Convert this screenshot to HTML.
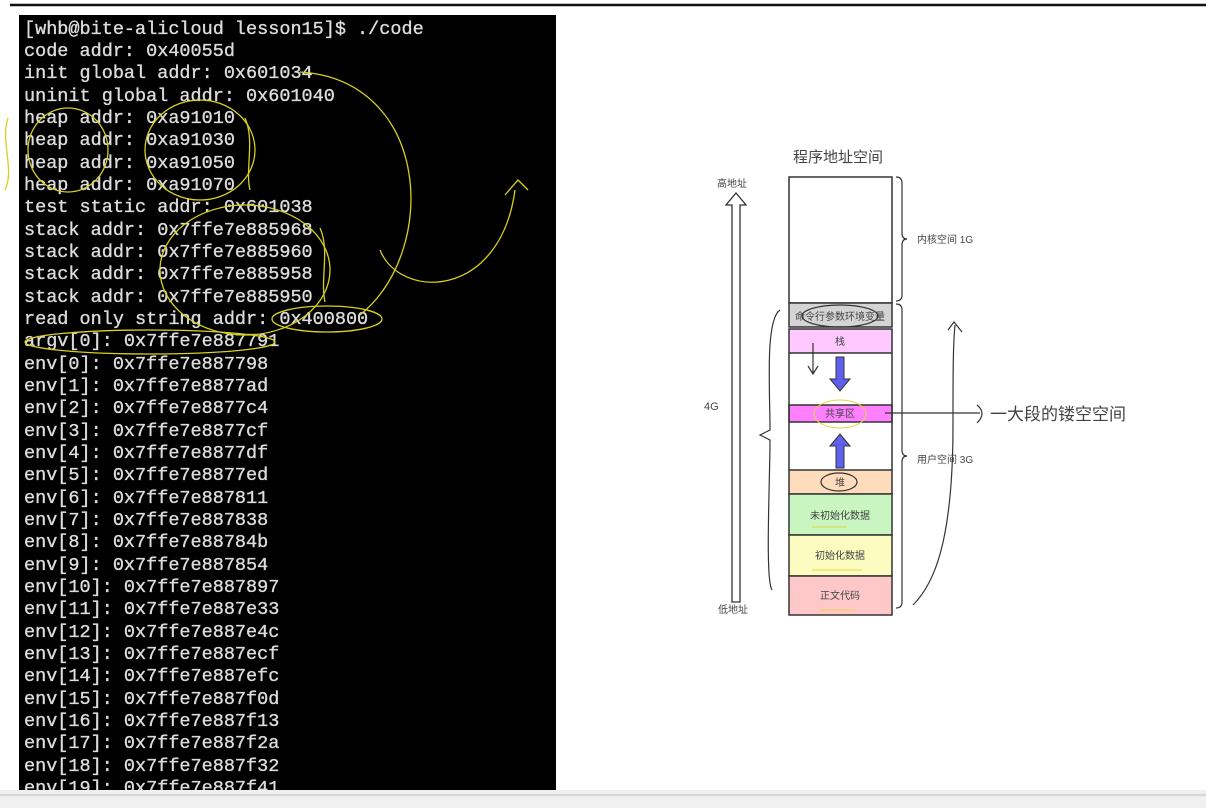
<!DOCTYPE html>
<html><head><meta charset="utf-8"><style>
html,body{margin:0;padding:0;background:#fff;width:1206px;height:808px;overflow:hidden}
svg{display:block}
.t{font-family:"Liberation Mono",monospace;font-size:18.5px;fill:#dcdcdc;stroke:#dcdcdc;stroke-width:0.35}
.c{font-family:"Liberation Sans","Noto Sans CJK SC",sans-serif;fill:#444}
</style></head><body>
<svg width="1206" height="808" viewBox="0 0 1206 808" xmlns="http://www.w3.org/2000/svg">
<rect width="1206" height="808" fill="#fff"/>
<line x1="10" y1="5" x2="1206" y2="5" stroke="#111" stroke-width="2.5"/>
<rect x="19" y="15" width="537" height="775" fill="#000"/>
<g class="t">
<text x="24" y="34">[whb@bite-alicloud lesson15]$ ./code</text>
<text x="24" y="56">code addr: 0x40055d</text>
<text x="24" y="78">init global addr: 0x601034</text>
<text x="24" y="101">uninit global addr: 0x601040</text>
<text x="24" y="123">heap addr: 0xa91010</text>
<text x="24" y="145">heap addr: 0xa91030</text>
<text x="24" y="168">heap addr: 0xa91050</text>
<text x="24" y="190">heap addr: 0xa91070</text>
<text x="24" y="212">test static addr: 0x601038</text>
<text x="24" y="235">stack addr: 0x7ffe7e885968</text>
<text x="24" y="257">stack addr: 0x7ffe7e885960</text>
<text x="24" y="279">stack addr: 0x7ffe7e885958</text>
<text x="24" y="302">stack addr: 0x7ffe7e885950</text>
<text x="24" y="324">read only string addr: 0x400800</text>
<text x="24" y="346">argv[0]: 0x7ffe7e887791</text>
<text x="24" y="369">env[0]: 0x7ffe7e887798</text>
<text x="24" y="391">env[1]: 0x7ffe7e8877ad</text>
<text x="24" y="413">env[2]: 0x7ffe7e8877c4</text>
<text x="24" y="436">env[3]: 0x7ffe7e8877cf</text>
<text x="24" y="458">env[4]: 0x7ffe7e8877df</text>
<text x="24" y="480">env[5]: 0x7ffe7e8877ed</text>
<text x="24" y="503">env[6]: 0x7ffe7e887811</text>
<text x="24" y="525">env[7]: 0x7ffe7e887838</text>
<text x="24" y="547">env[8]: 0x7ffe7e88784b</text>
<text x="24" y="570">env[9]: 0x7ffe7e887854</text>
<text x="24" y="592">env[10]: 0x7ffe7e887897</text>
<text x="24" y="614">env[11]: 0x7ffe7e887e33</text>
<text x="24" y="637">env[12]: 0x7ffe7e887e4c</text>
<text x="24" y="659">env[13]: 0x7ffe7e887ecf</text>
<text x="24" y="681">env[14]: 0x7ffe7e887efc</text>
<text x="24" y="704">env[15]: 0x7ffe7e887f0d</text>
<text x="24" y="726">env[16]: 0x7ffe7e887f13</text>
<text x="24" y="748">env[17]: 0x7ffe7e887f2a</text>
<text x="24" y="771">env[18]: 0x7ffe7e887f32</text>
<text x="24" y="793">env[19]: 0x7ffe7e887f41</text>
</g>
<rect x="0" y="790" width="1206" height="18" fill="#f0f0f0"/>
<line x1="0" y1="795" x2="1206" y2="795" stroke="#bbb"/>
<g fill="none" stroke="#d8d020" stroke-width="1.3">
<ellipse cx="68" cy="150" rx="40" ry="42"/>
<ellipse cx="200" cy="150" rx="55" ry="50"/>
<ellipse cx="245" cy="270" rx="85" ry="65"/>
<ellipse cx="327" cy="319" rx="55" ry="13"/>
<ellipse cx="150" cy="342" rx="125" ry="12"/>
<path d="M300 72 C 430 80 440 250 360 315"/>
<path d="M380 250 C 400 300 500 300 515 190 M505 195 L518 180 L528 190"/>
<path d="M8 118 C 0 140 15 170 5 190"/>
<path d="M245 118 C 255 140 245 170 250 190"/>
<path d="M320 228 C 330 250 320 280 325 302"/>
</g>
<text class="c" x="793" y="162" font-size="15" fill="#333">程序地址空间</text>
<text class="c" x="717" y="187" font-size="10">高地址</text>
<text class="c" x="718" y="613" font-size="10">低地址</text>
<text class="c" x="704" y="410" font-size="11">4G</text>
<path d="M732 602 L732 205 L726 205 L736 193 L746 205 L740 205 L740 602 Z" fill="#fff" stroke="#333" stroke-width="1.3"/>
<g stroke="#333" stroke-width="1.5">
<rect x="789" y="177" width="103" height="126" fill="#fff"/>
<rect x="789" y="303" width="103" height="24" fill="#d4d4d4"/>
<rect x="789" y="329" width="103" height="24" fill="#ffc8ff"/>
<rect x="789" y="405" width="103" height="17" fill="#ff80ff"/>
<rect x="789" y="470" width="103" height="24" fill="#ffdcbc"/>
<rect x="789" y="494" width="103" height="41" fill="#c8f5c0"/>
<rect x="789" y="535" width="103" height="41" fill="#fcfcc0"/>
<rect x="789" y="576" width="103" height="39" fill="#ffc8c8"/>
<line x1="789" y1="353" x2="789" y2="470"/><line x1="892" y1="353" x2="892" y2="470"/>
</g>
<g class="c" font-size="10" text-anchor="middle">
<text x="840" y="320">命令行参数环境变量</text>
<text x="840" y="345">栈</text>
<text x="840" y="417">共享区</text>
<text x="840" y="486">堆</text>
<text x="840" y="519">未初始化数据</text>
<text x="840" y="559">初始化数据</text>
<text x="840" y="599">正文代码</text>
</g>
<path d="M836 357 h8 v22 h6 l-10 12 l-10 -12 h6 z" fill="#6060ee" stroke="#333"/>
<path d="M836 468 h8 v-22 h6 l-10 -12 l-10 12 h6 z" fill="#6060ee" stroke="#333"/>
<g fill="none" stroke="#333" stroke-width="1.2">
<path d="M896 177 q6 0 6 6 v50 q0 6 5 6 q-5 0 -5 6 v50 q0 6 -6 6"/>
<path d="M896 304 q6 0 6 6 v140 q0 6 5 6 q-5 0 -5 6 v140 q0 6 -6 6"/>
<ellipse cx="840" cy="316" rx="38" ry="11"/>
<ellipse cx="839" cy="482" rx="18" ry="9"/>
<path d="M885 413 H980 M977 405 q10 8 0 18"/>
<path d="M780 310 c-15 10 -10 80 -10 120 l-10 5 l10 5 c0 40 -5 140 2 150"/>
<path d="M913 605 c20 -20 40 -60 40 -180 c0 -50 0 -80 2 -100 M948 330 l6 -8 l8 10"/>
<path d="M813 343 v30 M808 366 l5 8 l5 -8"/>
</g>
<g fill="none" stroke="#e0d840" stroke-width="1">
<ellipse cx="840" cy="414" rx="26" ry="14"/>
<path d="M812 527 h35 M812 570 h50 M820 610 h35"/>
</g>
<text class="c" x="917" y="243" font-size="10">内核空间 1G</text>
<text class="c" x="917" y="463" font-size="10">用户空间 3G</text>
<text class="c" x="990" y="420" font-size="17" fill="#333">一大段的镂空空间</text>
</svg>
</body></html>
